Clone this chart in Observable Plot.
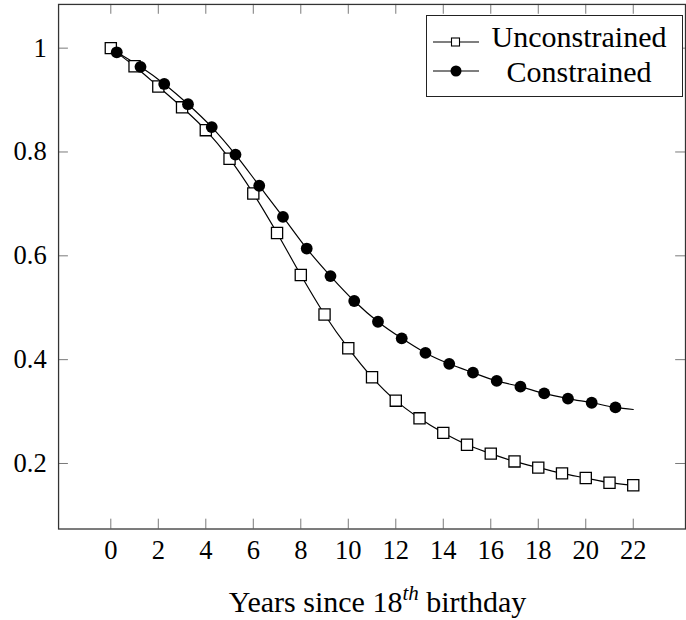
<!DOCTYPE html>
<html>
<head>
<meta charset="utf-8">
<script src="https://cdn.jsdelivr.net/npm/d3@7"></script>
<script src="https://cdn.jsdelivr.net/npm/@observablehq/plot@0.6"></script>
<style>
  html, body { margin: 0; padding: 0; background: white; }
  #wrap { position: relative; width: 686px; height: 620px; overflow: hidden; background: white; font-family: 'Liberation Serif', 'DejaVu Serif', serif; color: black; }
  #chart { position: absolute; left: 0; top: 0; }
  #chart svg text { font-family: 'Liberation Serif', 'DejaVu Serif', serif !important; }
  #legend { position: absolute; left: 426px; top: 15px; width: 257px; height: 82px; box-sizing: border-box; border: 1.3px solid #222; background: white; }
  .ltext { position: absolute; font-family: 'Liberation Serif', serif; font-size: 30px; line-height: 30px; white-space: nowrap; text-align: center; }
  #xlabel { position: absolute; left: 59px; width: 637px; top: 587px; font-family: 'Liberation Serif', serif; font-size: 30px; line-height: 30px; text-align: center; white-space: nowrap; }
  .sup { font-style: italic; font-size: 0.7em; position: relative; top: -0.55em; line-height: 0; }
</style>
</head>
<body>
<div id="wrap">
  <div id="chart"></div>
  <div id="legend"></div>
  <div id="xlabel">Years since 18<span class="sup">th</span> birthday</div>
</div>
<script>
// Data
const seriesNames = ["Unconstrained", "Constrained"];

const unconstrainedX = [0, 1, 2, 3, 4, 5, 6, 7, 8, 9, 10, 11, 12, 13, 14, 15, 16, 17, 18, 19, 20, 21, 22];
const unconstrainedY = [1.0, 0.965, 0.926, 0.886, 0.842, 0.787, 0.720, 0.644, 0.563, 0.487, 0.422, 0.366, 0.321, 0.287, 0.259, 0.236, 0.219, 0.204, 0.192, 0.181, 0.172, 0.163, 0.158];

// Markers of the constrained series (offset by a quarter year)
const constrainedX = [0.25, 1.25, 2.25, 3.25, 4.25, 5.25, 6.25, 7.25, 8.25, 9.25, 10.25, 11.25, 12.25, 13.25, 14.25, 15.25, 16.25, 17.25, 18.25, 19.25, 20.25, 21.25];
const constrainedY = [0.992, 0.964, 0.931, 0.892, 0.848, 0.795, 0.735, 0.675, 0.614, 0.561, 0.513, 0.473, 0.441, 0.413, 0.392, 0.375, 0.359, 0.348, 0.335, 0.325, 0.317, 0.308];
// Constrained curve continues to the end of the axis without a marker
const constrainedTailX = [22];
const constrainedTailY = [0.304];

const xTicks = [0, 2, 4, 6, 8, 10, 12, 14, 16, 18, 20, 22];
const yTicks = [0.2, 0.4, 0.6, 0.8, 1];

const unconstrained = unconstrainedX.map((x, i) => ({x, y: unconstrainedY[i]}));
const constrained = constrainedX.map((x, i) => ({x, y: constrainedY[i]}));
const constrainedLine = constrained.concat(constrainedTailX.map((x, i) => ({x, y: constrainedTailY[i]})));

const W = 697, H = 620, mL = 59, mR = 1, mT = 4, mB = 83;
const plotW = W - mL - mR, plotH = H - mT - mB;
const tickLen = 10;
const serif = "'Liberation Serif', 'DejaVu Serif', serif";

const chart = Plot.plot({
  width: W,
  height: H,
  marginLeft: mL,
  marginRight: mR,
  marginTop: mT,
  marginBottom: mB,
  x: {domain: [-2.2, 24.2]},
  y: {domain: [0.0738, 1.0842]},
  style: {fontFamily: serif, fontSize: "27px", color: "black", background: "white", overflow: "visible"},
  marks: [
    // inward ticks on all four sides
    Plot.tickX(xTicks, {x: d => d, insetTop: plotH - tickLen, stroke: "#777", strokeWidth: 1}),
    Plot.tickX(xTicks, {x: d => d, insetBottom: plotH - tickLen, stroke: "#777", strokeWidth: 1}),
    Plot.tickY(yTicks, {y: d => d, insetRight: plotW - tickLen, stroke: "#777", strokeWidth: 1}),
    Plot.tickY(yTicks, {y: d => d, insetLeft: plotW - tickLen, stroke: "#777", strokeWidth: 1}),
    Plot.frame({stroke: "#333", strokeWidth: 1.3}),
    Plot.axisX({ticks: xTicks, tickSize: 0, tickPadding: 11, label: null, fontSize: 27, fontFamily: serif, tickFormat: d => String(d)}),
    Plot.axisY({ticks: yTicks, tickSize: 0, tickPadding: 12, label: null, fontSize: 27, fontFamily: serif, tickFormat: d => String(d)}),
    Plot.line(unconstrained, {x: "x", y: "y", curve: "catmull-rom", stroke: "black", strokeWidth: 1.2}),
    Plot.line(constrainedLine, {x: "x", y: "y", curve: "catmull-rom", stroke: "black", strokeWidth: 1.2}),
    Plot.dot(unconstrained, {x: "x", y: "y", symbol: "square", r: 6.4, fill: "white", stroke: "black", strokeWidth: 1.3}),
    Plot.dot(constrained, {x: "x", y: "y", symbol: "circle", r: 6, fill: "black", stroke: "none"})
  ]
});
document.getElementById("chart").appendChild(chart);

// Legend (inside the plot, top right)
const legend = document.getElementById("legend");
const ns = "http://www.w3.org/2000/svg";
const lsvg = document.createElementNS(ns, "svg");
lsvg.setAttribute("width", 60);
lsvg.setAttribute("height", 80);
lsvg.style.position = "absolute";
lsvg.style.left = "0px";
lsvg.style.top = "0px";
legend.appendChild(lsvg);
const rowY = [26, 55];
seriesNames.forEach((name, i) => {
  const line = document.createElementNS(ns, "line");
  line.setAttribute("x1", 6); line.setAttribute("x2", 52);
  line.setAttribute("y1", rowY[i]); line.setAttribute("y2", rowY[i]);
  line.setAttribute("stroke", "black"); line.setAttribute("stroke-width", 1.2);
  lsvg.appendChild(line);
  if (i === 0) {
    const r = document.createElementNS(ns, "rect");
    r.setAttribute("x", 24.5); r.setAttribute("y", rowY[i] - 4);
    r.setAttribute("width", 8); r.setAttribute("height", 8);
    r.setAttribute("fill", "white"); r.setAttribute("stroke", "black"); r.setAttribute("stroke-width", 1.1);
    lsvg.appendChild(r);
  } else {
    const c = document.createElementNS(ns, "circle");
    c.setAttribute("cx", 29); c.setAttribute("cy", rowY[i]); c.setAttribute("r", 5.5);
    c.setAttribute("fill", "black");
    lsvg.appendChild(c);
  }
  const t = document.createElement("div");
  t.className = "ltext";
  t.textContent = name;
  t.style.left = "54px";
  t.style.width = "196px";
  t.style.top = (i === 0 ? 6 : 41) + "px";
  legend.appendChild(t);
});
</script>
</body>
</html>
